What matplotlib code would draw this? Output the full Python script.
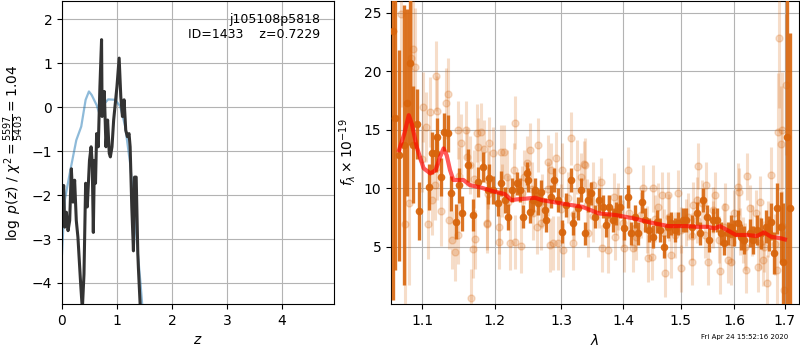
import matplotlib
matplotlib.use("Agg")
import matplotlib.pyplot as plt
from matplotlib.ticker import FixedLocator, FixedFormatter, NullLocator

# ---------------- left panel data ----------------
z_prior = [0.0, 0.05, 0.14, 0.26, 0.35, 0.43, 0.49, 0.54, 0.63, 0.69, 0.75, 0.84,
           0.97, 1.06, 1.15, 1.24, 1.30, 1.36, 1.43, 1.46]
logp_prior = [-3.34, -2.12, -1.51, -0.75, -0.44, 0.17, 0.36, 0.28, 0.05, -0.18, 0.05,
              0.18, 0.17, 0.02, -0.44, -1.28, -2.12, -3.04, -4.03, -4.5]

z_pz = [0.0, 0.007, 0.03, 0.05, 0.08, 0.11, 0.14, 0.17, 0.2, 0.23, 0.26, 0.29, 0.34,
        0.37, 0.40, 0.43, 0.46, 0.50, 0.53, 0.55, 0.57, 0.59, 0.61, 0.63, 0.66, 0.69,
        0.72, 0.73, 0.77, 0.80, 0.83, 0.86, 0.88, 0.91, 0.94, 0.97, 1.0, 1.04, 1.07,
        1.10, 1.13, 1.16, 1.19, 1.22, 1.24, 1.27, 1.30, 1.32, 1.35, 1.38, 1.39, 1.43]
logp_pz = [-2.7, -2.27, -1.78, -2.73, -2.39, -2.81, -2.58, -1.40, -2.16, -1.66, -2.58,
           -2.96, -4.03, -4.6, -3.8, -1.73, -2.27, -1.21, -0.9, -1.28, -2.85, -1.21,
           -1.73, -0.6, -0.9, 0.47, 1.54, -0.21, 0.36, -0.9, -0.29, -1.05, -1.13, -0.9,
           -0.29, 0.09, 0.47, 1.12, 0.24, -0.21, 0.17, -0.52, -0.67, -0.6, -0.9, -2.27,
           -3.27, -1.59, -1.59, -3.34, -3.65, -4.7]

# ---------------- right panel data ----------------
lam_dark = [1.0626, 1.0653, 1.0703, 1.0770, 1.0805, 1.0846, 1.0882, 1.0927, 1.0960,
            1.1088, 1.1134, 1.1182, 1.1204, 1.1251, 1.1297, 1.1344, 1.1391, 1.1461,
            1.1497, 1.1545, 1.1623, 1.1693, 1.1763, 1.1833, 1.1902, 1.1915, 1.1978,
            1.2050, 1.2099, 1.2148, 1.2199, 1.2248, 1.2322, 1.2371, 1.2411, 1.2470,
            1.2495, 1.2519, 1.2570, 1.2594, 1.2644, 1.2693, 1.2742, 1.2767, 1.2841,
            1.2890, 1.2941, 1.3005, 1.3070, 1.3151, 1.3188, 1.3260, 1.3313, 1.3367,
            1.3422, 1.3476, 1.3541, 1.3594, 1.3666, 1.3720, 1.3773, 1.3828, 1.3882,
            1.3951, 1.4018, 1.4088, 1.4135, 1.4193, 1.4253, 1.4328, 1.4368, 1.4446,
            1.4516, 1.4574, 1.4632, 1.4709, 1.4767, 1.4837, 1.4895, 1.4954, 1.5044,
            1.5106, 1.5198, 1.5291, 1.5352, 1.5415, 1.5476, 1.5518, 1.5600, 1.5661,
            1.5741, 1.5804, 1.5878, 1.5939, 1.6000, 1.6066, 1.6131, 1.6195, 1.6293,
            1.6360, 1.6444, 1.6522, 1.6620, 1.6684, 1.6717, 1.6781, 1.6848, 1.6912,
            1.6965, 1.7043, 1.7107]
flux_dark = [23.4, 16.0, 12.8, 13.7, 17.3, 20.7, 13.7, 15.5, 8.05,
             10.1, 12.97, 13.0, 14.4, 10.97, 14.81, 14.68, 9.56, 7.13,
             10.26, 7.85, 11.97, 7.70, 10.55, 11.83, 9.84, 10.84, 9.84,
             8.70, 10.41, 8.98, 7.56, 9.84, 10.41, 9.84, 7.56, 11.26,
             10.69, 7.99, 8.98, 9.84, 8.70, 9.70, 8.13, 7.28, 9.27,
             10.69, 8.98, 6.28, 8.56, 10.69, 7.00, 8.28, 9.84, 6.14,
             8.98, 9.56, 7.56, 8.98, 8.41, 6.85, 8.41, 7.28, 7.85,
             8.41, 6.57, 9.27, 6.14, 7.56, 6.14, 8.85, 7.28, 6.42,
             5.85, 7.13, 6.42, 5.00, 6.71, 7.00, 6.42, 7.00, 7.28,
             7.28, 6.71, 7.85, 6.14, 8.98, 7.56, 5.57, 7.28, 7.28,
             6.14, 5.29, 6.14, 6.71, 6.14, 7.00, 5.85, 5.57, 6.14,
             5.57, 6.42, 6.14, 6.71, 6.14, 7.13, 4.44, 8.28, 6.71,
             3.72, 14.39, 8.28]
err_dark = [23.0, 13.0, 9.0, 12.0, 8.0, 7.0, 5.0, 3.0, 2.5,
            2.0, 1.8, 1.6, 1.6, 1.6, 1.6, 1.6, 1.5, 1.5,
            1.5, 1.5, 1.4, 1.4, 1.3, 1.3, 1.2, 1.2, 1.2,
            1.1, 1.1, 1.1, 1.1, 1.0, 1.0, 1.0, 1.0, 1.0,
            1.0, 1.0, 1.0, 1.0, 1.0, 1.0, 1.0, 1.0, 1.0,
            1.0, 1.0, 1.0, 1.0, 1.0, 1.0, 1.0, 1.0, 1.0,
            1.0, 1.0, 1.0, 1.0, 1.0, 1.0, 1.0, 1.0, 1.0,
            1.0, 1.0, 1.0, 1.0, 1.0, 1.0, 1.0, 1.0, 1.0,
            1.0, 1.0, 1.0, 1.0, 1.0, 1.0, 1.0, 1.0, 1.0,
            1.0, 1.0, 1.0, 1.0, 1.0, 1.0, 1.0, 1.0, 1.0,
            1.0, 1.0, 1.0, 1.0, 1.1, 1.1, 1.1, 1.2, 1.2,
            1.2, 1.3, 1.3, 1.4, 1.5, 1.6, 1.8, 2.2, 3.0,
            5.0, 20.0, 15.0]

lam_light = [1.0724, 1.0882, 1.0913, 1.0860, 1.0778, 1.0824, 1.1008, 1.1182, 1.1106,
             1.1204, 1.1344, 1.1321, 1.1078, 1.1050, 1.1251, 1.1367, 1.1400, 1.1447,
             1.1483, 1.1490, 1.1601, 1.1531, 1.1610, 1.1647, 1.1693, 1.1727, 1.1749,
             1.1670, 1.1806, 1.1852, 1.1885, 1.1763, 1.1168, 1.1134, 1.1902,
             1.2297, 1.1922, 1.2099, 1.1978, 1.2133, 1.1884, 1.2065, 1.2070, 1.2229,
             1.2300, 1.2385, 1.2514, 1.2644, 1.2470, 1.2793, 1.2916, 1.3151, 1.3367,
             1.2619, 1.2693, 1.2817, 1.2867, 1.2951, 1.3026, 1.3188, 1.2570, 1.2182,
             1.2281, 1.2429, 1.3016, 1.3243, 1.2841,
             1.3358, 1.3313, 1.3640, 1.3503, 1.4088, 1.4341, 1.4516, 1.4662, 1.4779,
             1.4954, 1.3645, 1.3749, 1.4007, 1.4165, 1.4428, 1.4719, 1.4824, 1.5000,
             1.3853, 1.3908, 1.4603, 1.3422, 1.3860, 1.4223, 1.4487,
             1.5198, 1.5322, 1.5458, 1.5630, 1.5291, 1.5505, 1.5721, 1.5939, 1.6066,
             1.6097, 1.6252, 1.6293, 1.6509, 1.6717, 1.6639, 1.6457, 1.6555, 1.6880,
             1.6861, 1.6926, 1.7016, 1.6945, 1.6848, 1.6978, 1.6220, 1.5878, 1.5012,
             1.5136, 1.5229, 1.5384, 1.5600, 1.5815, 1.6000, 1.6424, 1.6164, 1.6587,
             1.10, 1.12, 1.15, 1.17, 1.19, 1.21, 1.22, 1.24, 1.255, 1.27, 1.28, 1.30,
             1.31, 1.32, 1.34, 1.35, 1.36, 1.375, 1.39, 1.40, 1.41, 1.42, 1.43, 1.44,
             1.455, 1.47, 1.48, 1.49, 1.51, 1.52, 1.53, 1.545, 1.56, 1.57, 1.58,
             1.595, 1.61, 1.62, 1.635, 1.65, 1.665, 1.68, 1.695]
flux_light = [24.9, 21.9, 20.4, 21.1, 6.94, 8.75, 16.95, 19.56, 16.49,
              16.58, 18.09, 17.24, 6.94, 15.24, 8.07, 7.28, 5.57, 4.57,
              6.0, 14.96, 14.96, 13.82, 12.68, 11.97, 4.78, 5.63, 14.73,
              0.6, 14.81, 13.31, 6.94, 13.53, 10.26, 8.98, 10.69,
              15.61, 13.82, 13.10, 12.97, 13.10, 7.00, 6.71, 5.43, 5.29,
              5.43, 5.06, 13.25, 13.68, 12.12, 12.26, 12.54, 14.25, 11.97,
              6.71, 7.00, 5.14, 5.29, 5.29, 4.72, 5.34, 7.85, 10.97,
              11.54, 10.97, 11.54, 11.83, 11.54,
              12.06, 10.97, 10.55, 10.26, 11.54, 9.98, 9.98, 9.41, 9.41,
              9.56, 4.86, 4.72, 4.86, 4.86, 4.01, 2.73, 4.29, 3.16,
              9.27, 8.41, 8.41, 6.14, 5.85, 5.85, 4.15,
              3.72, 11.89, 10.26, 9.41, 8.98, 3.72, 2.95, 3.72, 10.12,
              9.70, 11.03, 8.28, 8.84, 11.12, 1.88, 3.29, 3.86, 22.87,
              14.81, 13.76, 18.86, 14.96, 3.01, 1.31, 3.01, 3.86, 6.42,
              7.56, 8.56, 8.70, 8.13, 8.41, 7.85, 7.85, 5.57, 5.00,
              12.5, 11.8, 11.0, 10.8, 9.5, 9.8, 8.8, 9.6, 9.9, 8.9, 9.9, 8.2,
              9.2, 7.8, 8.6, 7.6, 8.8, 7.2, 8.0, 7.0, 7.9, 6.6, 7.7, 6.5,
              7.4, 6.2, 7.5, 6.0, 7.1, 5.9, 7.3, 6.0, 6.9, 5.6, 6.7,
              5.4, 6.3, 5.0, 6.4, 5.3, 6.5, 5.2, 6.8]
err_light = [8.0, 6.0, 5.0, 6.0, 8.0, 7.0, 3.0, 3.0, 3.0,
             3.0, 3.0, 3.0, 3.0, 3.0, 3.0, 2.5, 2.5, 2.5,
             2.5, 2.5, 2.5, 2.5, 2.5, 2.5, 2.5, 2.5, 2.5,
             2.5, 2.5, 2.5, 2.5, 2.5, 3.0, 3.0, 2.5,
             2.3, 2.3, 2.3, 2.3, 2.3, 2.3, 2.3, 2.3, 2.3,
             2.3, 2.3, 2.3, 2.3, 2.3, 2.3, 2.3, 2.3, 2.3,
             2.3, 2.3, 2.3, 2.3, 2.3, 2.3, 2.3, 2.3, 2.3,
             2.3, 2.3, 2.3, 2.3, 2.3,
             2.0, 2.0, 2.0, 2.0, 2.0, 2.0, 2.0, 2.0, 2.0,
             2.0, 2.0, 2.0, 2.0, 2.0, 2.0, 2.0, 2.0, 2.0,
             2.0, 2.0, 2.0, 2.0, 2.0, 2.0, 2.0,
             2.0, 2.0, 2.0, 2.0, 2.0, 2.0, 2.0, 2.0, 2.0,
             2.0, 2.0, 2.0, 2.2, 2.4, 2.4, 2.2, 2.2, 6.0,
             5.0, 5.0, 6.0, 5.0, 4.0, 5.0, 2.0, 2.0, 2.0,
             2.0, 2.0, 2.0, 2.0, 2.0, 2.0, 2.0, 2.0, 2.2,
             2.8, 2.8, 2.5, 2.5, 2.3, 2.3, 2.3, 2.3, 2.3, 2.3, 2.3, 2.2,
             2.2, 2.2, 2.2, 2.2, 2.2, 2.2, 2.0, 2.0, 2.0, 2.0, 2.0, 2.0,
             2.0, 2.0, 2.0, 2.0, 2.0, 2.0, 2.0, 2.0, 2.0, 2.0, 2.0,
             2.0, 2.0, 2.0, 2.2, 2.2, 2.4, 2.6, 3.0]

lam_model = [1.070, 1.0768, 1.0825, 1.0865, 1.093, 1.102, 1.111, 1.118, 1.124, 1.1287,
             1.133, 1.1375, 1.142, 1.156, 1.165, 1.180, 1.200, 1.2147, 1.2245, 1.232,
             1.2445, 1.260, 1.270, 1.285, 1.306, 1.333, 1.360, 1.388, 1.418, 1.448,
             1.478, 1.510, 1.530, 1.549, 1.5625, 1.5725, 1.586, 1.603, 1.623, 1.644,
             1.658, 1.672, 1.692, 1.700]
flux_model = [13.25, 14.67, 16.24, 15.5, 13.5, 11.7, 11.26, 11.54, 12.68, 13.4,
              12.8, 11.54, 10.7, 10.7, 10.26, 10.06, 9.7, 9.5, 8.98, 9.04,
              9.1, 9.18, 8.98, 8.84, 8.64, 8.41, 7.84, 7.7, 7.42, 7.05,
              6.76, 6.76, 6.7, 6.7, 6.56, 6.76, 6.42, 6.0, 6.0, 5.91,
              6.22, 5.85, 5.71, 5.62]

lam_ticks = [1.1, 1.2, 1.3, 1.4, 1.5, 1.6, 1.7]
lam_labels = ['1.1', '1.2', '1.3', '1.4', '1.5', '1.6', '1.7']

# ---------------- figure ----------------
fig = plt.figure(figsize=(8, 3.5), dpi=100)
ax1 = fig.add_axes([62 / 800, 46 / 350, 272 / 800, 303 / 350])
ax2 = fig.add_axes([391 / 800, 46 / 350, 408 / 800, 303 / 350])

ax1.plot(z_prior, logp_prior, color='#1f77b4', alpha=0.5, lw=1.6)
ax1.plot(z_pz, logp_pz, color='0.2', lw=2.2)
ax1.set_xlim(0, 4.95)
ax1.set_ylim(-4.48, 2.42)
ax1.set_xticks([0, 1, 2, 3, 4])
ax1.set_yticks([-4, -3, -2, -1, 0, 1, 2])
ax1.grid(True, color='0.7')
ax1.set_axisbelow(True)
ax1.set_xlabel('$z$')
ax1.set_ylabel(r'$\log\ p(z)$ / $\chi^2=\frac{5597}{5403}=1.04$')
ax1.text(0.948, 0.96, 'j105108p5818\nID=1433    z=0.7229', transform=ax1.transAxes,
         ha='right', va='top', fontsize=9, linespacing=1.2)

col = '#d8650c'
ax2.errorbar(lam_light, flux_light, yerr=err_light, fmt='o', color=col, alpha=0.22,
             markersize=5, elinewidth=2.2, capsize=0, zorder=3)
ax2.errorbar(lam_dark, flux_dark, yerr=err_dark, fmt='o', color=col, alpha=0.9,
             markersize=4.5, elinewidth=2.4, capsize=0, zorder=4)
ax2.plot(lam_model, flux_model, color='red', alpha=0.65, lw=3, zorder=5)

ax2.set_xscale('log')
ax2.xaxis.set_major_locator(FixedLocator(lam_ticks))
ax2.xaxis.set_major_formatter(FixedFormatter(lam_labels))
ax2.xaxis.set_minor_locator(NullLocator())
ax2.set_xlim(1.0597, 1.729)
ax2.set_ylim(0.1, 26)
ax2.set_yticks([5, 10, 15, 20, 25])
ax2.grid(True, color='0.7')
ax2.set_axisbelow(True)
ax2.set_xlabel(r'$\lambda$')
ax2.set_ylabel(r'$f_\lambda\times10^{-19}$')

fig.text(0.985, 0.03, 'Fri Apr 24 15:52:16 2020', ha='right', va='bottom', fontsize=5)

fig.savefig('out.png', dpi=100)
